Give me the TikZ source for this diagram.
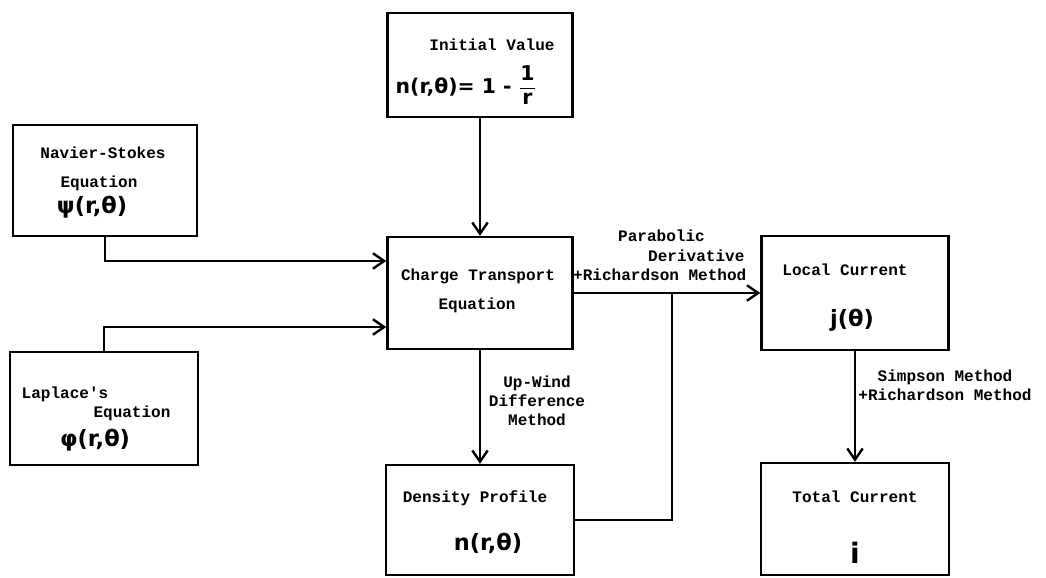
\documentclass[tikz,border=0pt]{standalone}
\usepackage{fontspec}
\setmonofont{Liberation Mono}
\newfontfamily\frmfont{DejaVu Sans}
\usetikzlibrary{arrows.meta}
\newcommand{\lblfont}{\ttfamily\bfseries\fontsize{11.4}{13.5}\selectfont}
\newcommand{\eqfont}{\frmfont\bfseries\fontsize{16}{18}\selectfont}

\begin{document}
\begin{tikzpicture}[x=0.025cm, y=-0.025cm, line width=1.7pt,
    >={Straight Barb[length=8pt,width=11pt]},
    block/.style={draw, inner sep=0pt},
    txt/.style={font=\lblfont, inner sep=0pt},
    eqn/.style={font=\eqfont, inner sep=0pt}]
  \useasboundingbox (0,0) rectangle (1046,578);

  % boxes
  \node[block, minimum width=4.625cm, minimum height=2.6cm] (init) at (480,65) {};
  \node[block, minimum width=4.6cm, minimum height=2.775cm] (ns) at (105,180.5) {};
  \node[block, minimum width=4.7cm, minimum height=2.825cm] (lap) at (104,408.5) {};
  \node[block, minimum width=4.625cm, minimum height=2.8cm] (ct) at (480,293) {};
  \node[block, minimum width=4.7cm, minimum height=2.75cm] (dp) at (480,520) {};
  \node[block, minimum width=4.675cm, minimum height=2.85cm] (lc) at (855,293) {};
  \node[block, minimum width=4.7cm, minimum height=2.8cm] (tc) at (855,519) {};
  \coordinate (fb) at (672,293);

  % box texts
  \node[txt] (initlbl) at (492,45) {Initial Value};
  \node[eqn, font=\frmfont\bfseries\fontsize{14.5}{16}\selectfont] (initfn) at (466,88)
    {n(r,θ)= 1 - $\frac{\hbox{\strut 1}}{\hbox{\strut r}}$};

  \node[txt] (nsname) at (103,153) {Navier-Stokes};
  \node[txt] (nseq) at (99,183) {Equation};
  \node[eqn] (nsfn) at (92,207) {ψ(r,θ)};

  \node[txt] (lapname) at (65,394) {Laplace's};
  \node[txt] (lapeq) at (132,413) {Equation};
  \node[eqn] (lapfn) at (95,440) {φ(r,θ)};

  \node[txt] (ctname) at (478,276) {Charge Transport};
  \node[txt] (cteq) at (477,305) {Equation};

  \node[txt] (dpname) at (475,498) {Density Profile};
  \node[eqn] (dpfn) at (488,543) {n(r,θ)};

  \node[txt] (lcname) at (845,270) {Local Current};
  \node[eqn] (lcfn) at (852,320) {j(θ)};

  \node[txt] (tcname) at (855,497) {Total Current};
  \node[eqn] (tcfn) at (855,553) {\fontsize{20}{22}\selectfont i};

  % method labels
  \node[txt, anchor=west] (parab1) at (617,236) {Parabolic};
  \node[txt, anchor=west] (parab2) at (647,256) {Derivative};
  \node[txt, anchor=west] (parab3) at (572,275) {+Richardson Method};
  \node[txt, align=center] (upwind) at (537,401) {Up-Wind\\Difference\\Method};
  \node[txt, align=center] (simpson) at (945,385) {Simpson Method\\+Richardson Method};

  % connectors
  \draw[->] (init) -- (ct);
  \draw[->] (ns.south) |- ([yshift=0.8cm]ct.west);
  \draw[->] (lap.north) |- ([yshift=-0.85cm]ct.west);
  \draw[->] (ct) -- (lc);
  \draw (dp.east) -| (fb);
  \draw[->] (ct) -- (dp);
  \draw[->] (lc) -- (tc);
\end{tikzpicture}
\end{document}
